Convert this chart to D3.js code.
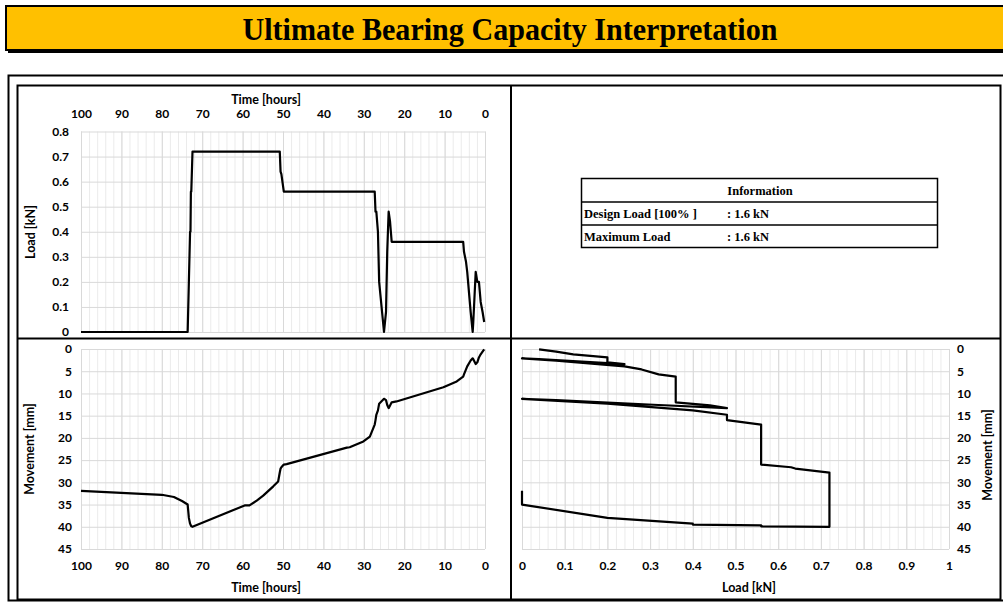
<!DOCTYPE html>
<html>
<head>
<meta charset="utf-8">
<script src="https://cdn.jsdelivr.net/npm/d3@7"></script>
<style>
  body { margin: 0; background: #fff; }
  text { font-family: Lato, "Liberation Sans", sans-serif; }
</style>
</head>
<body>
<svg id="chart"></svg>
<script>
let w = 1003;
let h = 603;

// test record: hours, load and settlement
let timeHours = [100, 80, 77, 75, 73.6, 73.3, 73.0, 72.9, 72.8, 72.7, 72.4,
  59.5, 58.3, 56.5, 54.9, 52.4, 51.2, 50.8, 50.6, 50.4, 49.8,
  49.1, 34.2, 33.5, 30.1, 28.5, 27.3, 27.1, 26.9, 26.5, 26.2, 25.0,
  24.5, 24.2, 23.85, 23.5, 23.1, 21.9, 10.3, 7.0, 5.4,
  5.2, 4.7, 4.4, 3.55, 3.05, 2.9, 2.3, 1.9, 1.5, 1.07, 0.6, 0.2];
let loadKN = [0, 0, 0, 0, 0, 0.2, 0.4, 0.4, 0.56, 0.56, 0.72,
  0.72, 0.72, 0.72, 0.72, 0.72, 0.72, 0.72, 0.64, 0.63, 0.56,
  0.56, 0.56, 0.56, 0.56, 0.56, 0.56, 0.48, 0.48, 0.40, 0.20, 0,
  0.08, 0.32, 0.48, 0.44, 0.36, 0.36, 0.36, 0.36, 0.36,
  0.32, 0.28, 0.24, 0.08, 0, 0.04, 0.24, 0.2, 0.2, 0.12, 0.08, 0.04];
let movementMm = [31.9, 32.8, 33.3, 34.2, 35.0, 38.0, 39.3, 39.5, 39.7, 39.9, 40.0,
  35.2, 35.2, 34.1, 33.0, 30.9, 29.8, 27.8, 26.9, 26.6, 26.0,
  25.9, 22.2, 22.1, 20.8, 19.7, 17.0, 16.0, 14.8, 13.8, 12.3, 11.2,
  11.5, 12.6, 13.3, 12.7, 12.0, 11.8, 8.6, 7.3, 6.2,
  5.7, 4.6, 3.9, 2.6, 2.1, 2.3, 3.4, 3.0, 1.9, 1.2, 0.6, 0.1];

let timeTicks = [100, 90, 80, 70, 60, 50, 40, 30, 20, 10, 0];
let loadTicks = [0, 0.1, 0.2, 0.3, 0.4, 0.5, 0.6, 0.7, 0.8];
let movementTicks = [0, 5, 10, 15, 20, 25, 30, 35, 40, 45];
let loadAxisTicks = [0, 0.1, 0.2, 0.3, 0.4, 0.5, 0.6, 0.7, 0.8, 0.9, 1];

let infoTitle = 'Information';
let infoRows = [['Design Load [100% ]', ':  1.6 kN'], ['Maximum Load', ':  1.6 kN']];

let svg = d3.select('#chart').attr('width', w).attr('height', h);
let idx = d3.range(timeHours.length);

//title bar
svg.append('rect').attr('x', 8).attr('y', 8).attr('width', 1000).attr('height', 45).attr('fill', '#000');
svg.append('rect').attr('x', 6).attr('y', 6).attr('width', 1000).attr('height', 44)
    .attr('fill', '#ffc000').attr('stroke', '#000').attr('stroke-width', 2);
svg.append('text')
    .attr('x', 510).attr('y', 40)
    .attr('text-anchor', 'middle')
    .style('font-family', '"Liberation Serif", serif')
    .style('font-weight', 'bold')
    .style('font-size', '31px')
    .attr('textLength', 535).attr('lengthAdjust', 'spacingAndGlyphs')
    .text('Ultimate Bearing Capacity Interpretation');

//frame
svg.append('rect').attr('x', 8.5).attr('y', 75.5).attr('width', 1000).attr('height', 525)
    .attr('fill', 'none').attr('stroke', '#000').attr('stroke-width', 2);
svg.append('rect').attr('x', 17.5).attr('y', 85.5).attr('width', 983).attr('height', 514)
    .attr('fill', 'none').attr('stroke', '#000').attr('stroke-width', 2);
svg.append('line').attr('x1', 511).attr('x2', 511).attr('y1', 85).attr('y2', 600)
    .attr('stroke', '#000').attr('stroke-width', 2);
svg.append('line').attr('x1', 17).attr('x2', 1001).attr('y1', 338.5).attr('y2', 338.5)
    .attr('stroke', '#000').attr('stroke-width', 2);

// scales
let xTimeTop = d3.scaleLinear().domain([100, 0]).range([81, 485]);
let yLoad = d3.scaleLinear().domain([0, 0.8]).range([332, 131.5]);
let xTimeBot = d3.scaleLinear().domain([100, 0]).range([81, 485]);
let yMove = d3.scaleLinear().domain([0, 45]).range([349, 549]);
let xLoad = d3.scaleLinear().domain([0, 1]).range([522, 949]);

function grid(xs, ys, minorX, majorX, majorY) {
    let g = svg.append('g');
    let r = ys.range();
    let top = Math.min(r[0], r[1]), bot = Math.max(r[0], r[1]);
    let xr = xs.range();
    g.append('g').attr('transform', `translate(0,${bot})`)
        .call(d3.axisBottom(xs).tickValues(minorX).tickSize(-(bot - top)).tickFormat(''))
        .call(a => a.select('.domain').remove())
        .call(a => a.selectAll('line').attr('stroke', '#ebebeb'));
    g.append('g').attr('transform', `translate(0,${bot})`)
        .call(d3.axisBottom(xs).tickValues(majorX).tickSize(-(bot - top)).tickFormat(''))
        .call(a => a.select('.domain').remove())
        .call(a => a.selectAll('line').attr('stroke', '#d9d9d9'));
    g.append('g').attr('transform', `translate(${Math.min(xr[0], xr[1])},0)`)
        .call(d3.axisLeft(ys).tickValues(majorY).tickSize(-Math.abs(xr[1] - xr[0])).tickFormat(''))
        .call(a => a.select('.domain').remove())
        .call(a => a.selectAll('line').attr('stroke', '#d9d9d9'));
}

function styleAxis(a) {
    a.select('.domain').remove();
    a.selectAll('line').remove();
    a.selectAll('text')
        .attr('fill', '#000')
        .style('font-family', 'Lato, sans-serif')
        .style('font-weight', 'bold')
        .style('font-size', '12px');
}

function axisTitle(x, y, rot, label) {
    svg.append('text')
        .attr('transform', `translate(${x},${y}) rotate(${rot})`)
        .attr('text-anchor', 'middle')
        .style('font-weight', 'bold')
        .style('font-size', '12.5px')
        .attr('fill', '#000')
        .text(label);
}

let fmt = d => String(+d.toFixed(2));
let timeMinor = d3.range(0, 101, 2);

// chart 1: load vs time
grid(xTimeTop, yLoad, timeMinor, timeTicks, loadTicks);
svg.append('g').attr('transform', 'translate(0,118)')
    .call(d3.axisTop(xTimeTop).tickValues(timeTicks).tickSize(0).tickPadding(0).tickFormat(fmt))
    .call(styleAxis);
svg.append('g').attr('transform', 'translate(73,0)')
    .call(d3.axisLeft(yLoad).tickValues(loadTicks).tickSize(0).tickPadding(4).tickFormat(fmt))
    .call(styleAxis);
axisTitle(266, 104, 0, 'Time [hours]');
axisTitle(35, 232, -90, 'Load [kN]');
svg.append('path')
    .datum(idx)
    .attr('d', d3.line().x(i => xTimeTop(timeHours[i])).y(i => yLoad(loadKN[i])))
    .attr('fill', 'none').attr('stroke', '#000').attr('stroke-width', 2.2)
    .attr('stroke-linejoin', 'round');

// chart 2: movement vs time
grid(xTimeBot, yMove, timeMinor, timeTicks, movementTicks);
svg.append('g').attr('transform', 'translate(0,557)')
    .call(d3.axisBottom(xTimeBot).tickValues(timeTicks).tickSize(0).tickPadding(4).tickFormat(fmt))
    .call(styleAxis);
svg.append('g').attr('transform', 'translate(76,0)')
    .call(d3.axisLeft(yMove).tickValues(movementTicks).tickSize(0).tickPadding(4).tickFormat(fmt))
    .call(styleAxis);
axisTitle(266, 592, 0, 'Time [hours]');
axisTitle(34, 449, -90, 'Movement [mm]');
svg.append('path')
    .datum(idx)
    .attr('d', d3.line().x(i => xTimeBot(timeHours[i])).y(i => yMove(movementMm[i])))
    .attr('fill', 'none').attr('stroke', '#000').attr('stroke-width', 2.2)
    .attr('stroke-linejoin', 'round');

// chart 3: movement vs load
grid(xLoad, yMove, d3.range(0, 51).map(d => d / 50), loadAxisTicks, movementTicks);
svg.append('g').attr('transform', 'translate(0,557)')
    .call(d3.axisBottom(xLoad).tickValues(loadAxisTicks).tickSize(0).tickPadding(4).tickFormat(fmt))
    .call(styleAxis);
svg.append('g').attr('transform', 'translate(957,0)')
    .call(d3.axisRight(yMove).tickValues(movementTicks).tickSize(0).tickPadding(0).tickFormat(fmt))
    .call(styleAxis);
axisTitle(749, 592, 0, 'Load [kN]');
axisTitle(992, 455, -90, 'Movement [mm]');
svg.append('path')
    .datum(idx)
    .attr('d', d3.line().x(i => xLoad(loadKN[i])).y(i => yMove(movementMm[i])))
    .attr('fill', 'none').attr('stroke', '#000').attr('stroke-width', 2.2)
    .attr('stroke-linejoin', 'round');

//information table
let tbl = svg.append('g').style('font-family', '"Liberation Serif", serif').style('font-weight', 'bold');
tbl.append('rect').attr('x', 581.5).attr('y', 178.5).attr('width', 356).attr('height', 69)
    .attr('fill', 'none').attr('stroke', '#000').attr('stroke-width', 1.5);
[202, 225].forEach(y => tbl.append('line').attr('x1', 581).attr('x2', 938).attr('y1', y).attr('y2', y)
    .attr('stroke', '#000').attr('stroke-width', 1.5));
tbl.append('text').attr('x', 760).attr('y', 195).attr('text-anchor', 'middle')
    .style('font-size', '12.5px').style('font-family', '"Liberation Serif", serif').text(infoTitle);
infoRows.forEach((r, i) => {
    tbl.append('text').attr('x', 584).attr('y', 218 + i * 23)
        .style('font-size', '12.5px').style('font-family', '"Liberation Serif", serif').text(r[0]);
    tbl.append('text').attr('x', 727).attr('y', 218 + i * 23)
        .style('font-size', '12.5px').style('font-family', '"Liberation Serif", serif').text(r[1]);
});
</script>
</body>
</html>
